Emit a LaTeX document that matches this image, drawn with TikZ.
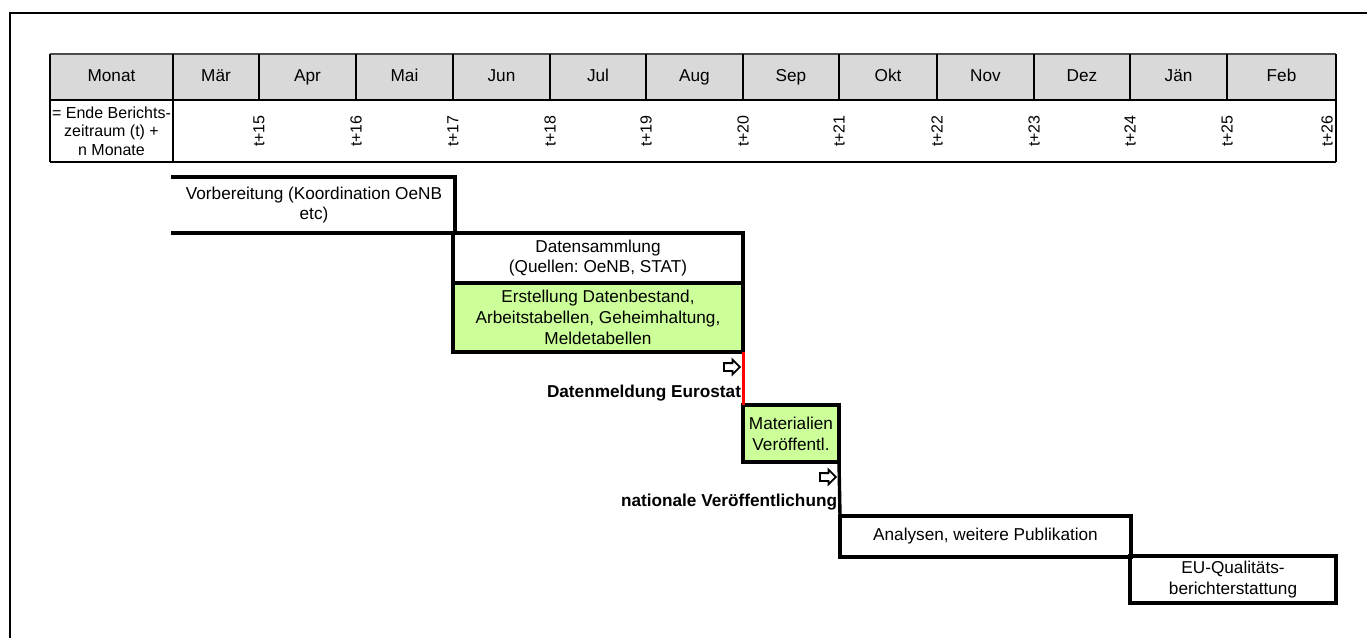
\documentclass[tikz,border=0pt]{standalone}
\usepackage{fontspec}
\setmainfont{Liberation Sans}
\usetikzlibrary{shapes.arrows}
\definecolor{hdrgray}{HTML}{D9D9D9}
\definecolor{stepgreen}{HTML}{CCFF99}
\definecolor{redline}{HTML}{FF0000}
\frenchspacing
\begin{document}
\begin{tikzpicture}[x=1pt,y=-1pt,
  txt/.style={font=\fontsize{17.2}{20.8}\selectfont, align=center, inner sep=0pt, outer sep=0pt},
  small/.style={font=\fontsize{16}{18.3}\selectfont, align=center, inner sep=0pt, outer sep=0pt},
  hdrcell/.style={txt, fill=hdrgray, minimum height=46, text height=12.5pt, text depth=3.5pt},
  tline/.style={line width=2.2pt, black},
  hdrtop/.style={line width=1.5pt, black!70},
  boxline/.style={line width=3.4pt, black, line cap=rect},
  stepbox/.style={txt, line width=3.4pt},
  greenbox/.style={stepbox, draw=black, fill=stepgreen},
  milestone/.style={txt, font=\fontsize{17.2}{20.8}\selectfont\bfseries, anchor=east},
  outarrow/.style={single arrow, draw=black, fill=white, line width=1.8pt,
    inner sep=3pt, minimum height=16, single arrow head extend=3.5pt},
  frame/.style={line width=2.4pt, black}
]
\useasboundingbox (0,0) rectangle (1367,638);

% outer frame (top and left edges)
\coordinate (fr-tr) at (1367,13);
\coordinate (fr-tl) at (10,13);
\coordinate (fr-bl) at (10,638);
\draw[frame] (fr-tr) -- (fr-tl) -- (fr-bl);

% header row: month names
\node[hdrcell, minimum width=123] (monat) at (111.5,77) {Monat};
\foreach \nm/\l/\r [count=\i] in {Mär/173/259,Apr/259/356,Mai/356/453,Jun/453/550,
    Jul/550/646,Aug/646/743,Sep/743/839,Okt/839/937,Nov/937/1034,Dez/1034/1130,
    Jän/1130/1227,Feb/1227/1336}
  \node[hdrcell, minimum width={\r-\l}] (m\i) at ({(\l+\r)/2},77) {\nm};

% second row: offset in months
\node[small, minimum width=123, minimum height=62] (desc) at (111.5,131)
  {= Ende Berichts-\\zeitraum (t) +\\n Monate};
\foreach \x/\n in {259/15,356/16,453/17,550/18,646/19,743/20,839/21,937/22,
    1034/23,1130/24,1227/25,1327/26}
  \node[small, rotate=90] (t\n) at (\x,131) {t+\n};

% table rules
\draw[hdrtop] (monat.north west) -- (m12.north east);
\draw[tline] (monat.north west) -- (desc.south west);
\draw[tline] (m12.north east) -- (m12.east |- desc.south);
\draw[tline] (monat.south west) -- (m12.south east);
\draw[tline] (desc.south west) -- (m12.east |- desc.south);
\draw[tline] (monat.north east) -- (desc.south east);
\foreach \i in {1,...,11}
  \draw[tline] (m\i.north east) -- (m\i.south east);

% process steps
\node[stepbox, minimum width=282, minimum height=56] (vb) at (314,205)
  {Vorbereitung (Koordination OeNB\\etc)};
\draw[boxline] (vb.north west) -- (vb.north east) -- (vb.south east) -- (vb.south west);

\node[stepbox, draw=black, minimum width=290, minimum height=50] (ds) at (598,258)
  {Datensammlung\\(Quellen: OeNB, STAT)};
\node[greenbox, minimum width=290, minimum height=69] (er) at (598,317.5)
  {Erstellung Datenbestand,\\Arbeitstabellen, Geheimhaltung,\\Meldetabellen};
\node[greenbox, minimum width=96, minimum height=57] (ma) at (791,433.5)
  {Materialien\\Veröffentl.};
\node[stepbox, draw=black, minimum width=291, minimum height=41] (an) at (985.5,536.5)
  {Analysen, weitere Publikation};
\node[stepbox, draw=black, minimum width=206, minimum height=47] (eu) at (1233,579.5)
  {EU-Qualitäts-\\berichterstattung};

% milestones between the steps
\draw[line width=3pt, redline] (er.south east) -- (ma.north west);
\draw[line width=3.4pt, black] (ma.south east) -- (an.north west);

\node[outarrow] (ar1) at (730,367) {};
\node[milestone] (dm) at (741,393) {Datenmeldung Eurostat};
\node[outarrow] (ar2) at (826,477) {};
\node[milestone] (nv) at (837,502) {nationale Veröffentlichung};
\end{tikzpicture}
\end{document}
